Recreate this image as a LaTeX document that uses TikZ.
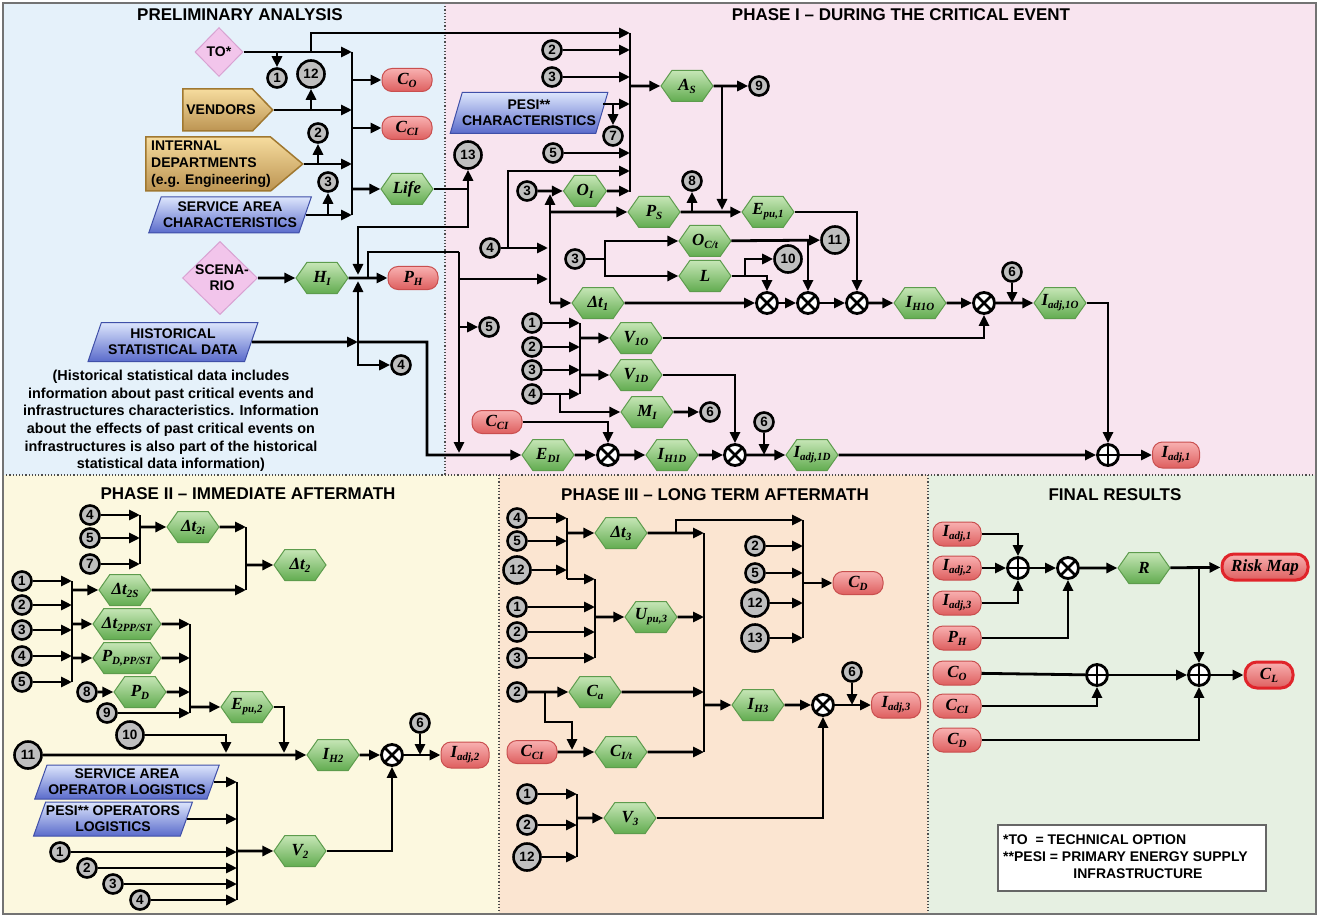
\documentclass[tikz,border=0pt]{standalone}
\usepackage{fontspec}
\setmainfont{Liberation Sans}
\newfontfamily\lf{Liberation Serif}
\usetikzlibrary{arrows.meta,shapes.geometric,shapes.symbols,calc}
\definecolor{bgA}{HTML}{E5F1FA}
\definecolor{bgB}{HTML}{F8E4EF}
\definecolor{bgC}{HTML}{FCF8DF}
\definecolor{bgD}{HTML}{FBE5D1}
\definecolor{bgE}{HTML}{E6F0E2}
\definecolor{hexT}{HTML}{C6E6B6}
\definecolor{hexD}{HTML}{62AC50}
\definecolor{hexB}{HTML}{5D9C4D}
\definecolor{redT}{HTML}{F8B0B0}
\definecolor{redD}{HTML}{DE5F5F}
\definecolor{redB}{HTML}{C94F4F}
\definecolor{riskB}{HTML}{E0242A}
\definecolor{goldT}{HTML}{F6DC9E}
\definecolor{goldD}{HTML}{BC9452}
\definecolor{goldB}{HTML}{A07830}
\definecolor{bluT}{HTML}{DCE5FC}
\definecolor{bluD}{HTML}{5A6BCB}
\definecolor{bluB}{HTML}{3F4FA8}
\definecolor{pinkF}{HTML}{F2C5EB}
\definecolor{pinkB}{HTML}{D8A2D2}
\definecolor{numG}{HTML}{BFBFBF}
\newcommand\vl[2]{#1\raisebox{-3pt}{\fontsize{11}{11}\selectfont #2}}
\newcommand\vfont{\lf\bfseries\itshape\fontsize{17}{17}\selectfont}
\tikzset{
  every node/.style={font=\bfseries\fontsize{14}{16}\selectfont},
  ttl/.style={font=\bfseries\fontsize{17}{18}\selectfont},
  txt/.style={align=center, inner sep=0pt},
  ln/.style={line width=2.8pt},
  arr/.style={line width=2.8pt, -{Triangle[length=11pt,width=10pt]}},
  hex/.style={shape=signal, signal to=east and west, signal pointer angle=110,
    draw=hexB, line width=1pt, top color=hexT, bottom color=hexD,
    minimum width=52pt, minimum height=31pt, inner xsep=-9pt, inner ysep=0pt, font=\vfont},
  redb/.style={rectangle, rounded corners=10pt, draw=redB, line width=1pt,
    top color=redT, bottom color=redD, minimum width=50pt, minimum height=23pt,
    inner sep=0pt, font=\vfont},
  gold/.style={shape=signal, signal to=east, draw=goldB, line width=1.5pt,
    top color=goldT, bottom color=goldD, inner sep=0pt, anchor=west},
  para/.style={trapezium, trapezium left angle=65, trapezium right angle=115,
    trapezium stretches=true, draw=bluB, line width=1pt, top color=bluT,
    bottom color=bluD, inner sep=0pt, align=center},
  pinkd/.style={diamond, draw=pinkB, line width=1pt, fill=pinkF, inner sep=0pt},
  num/.style={circle, draw=black, line width=2.6pt, fill=numG, minimum size=19pt,
    inner sep=0pt, font=\bfseries\fontsize{13.5}{13.5}\selectfont},
  numb/.style={num, minimum size=27pt},
  mul/.style={circle, draw=black, fill=white, line width=2.8pt, minimum size=21pt, inner sep=0pt,
    path picture={\draw[line width=2.8pt] (path picture bounding box.north west)--(path picture bounding box.south east)
      (path picture bounding box.north east)--(path picture bounding box.south west);}},
  add/.style={circle, draw=black, fill=white, line width=2.8pt, minimum size=21pt, inner sep=0pt,
    path picture={\draw[line width=2.8pt] (path picture bounding box.north)--(path picture bounding box.south)
      (path picture bounding box.east)--(path picture bounding box.west);}},
}
\begin{document}
\begin{tikzpicture}[x=1pt,y=-1pt]
\useasboundingbox (0,0) rectangle (1319,917);
\fill[white] (0,0) rectangle (1319,917);
\fill[bgA] (3,3) rectangle (445,475);
\fill[bgB] (445,3) rectangle (1316,475);
\fill[bgC] (3,475) rectangle (499,914);
\fill[bgD] (499,475) rectangle (928,914);
\fill[bgE] (928,475) rectangle (1316,914);
\draw[dotted, line width=1.2pt, black!70] (445,3) -- (445,475) (3,475) -- (1316,475) (499,475) -- (499,914) (928,475) -- (928,914);
\draw[black!55, line width=1.5pt] (3,3) rectangle (1316,914);

\node[ttl] (T0) at (240,15) {PRELIMINARY ANALYSIS};
\node[ttl] (T1) at (901,15) {PHASE I – DURING THE CRITICAL EVENT};
\node[ttl] (T2) at (248,494) {PHASE II – IMMEDIATE AFTERMATH};
\node[ttl] (T3) at (715,495) {PHASE III – LONG TERM AFTERMATH};
\node[ttl] (T4) at (1115,495) {FINAL RESULTS};

% ---------------- PRELIMINARY ----------------
\node[pinkd, minimum width=48pt, minimum height=49pt] (TO) at (219,52) {};
\node[txt] (TOt) at (219,52) {TO*};
\node[num] (n1a) at (277,78) {1};
\node[numb] (n12a) at (311,74) {12};
\node[gold, signal pointer angle=92, minimum width=90pt, minimum height=42pt] (VEN) at (182,110) {};
\node[txt] (VENt) at (221,110) {VENDORS};
\node[gold, signal pointer angle=80, minimum width=157pt, minimum height=54pt] (INT) at (145,164) {};
\node[txt, anchor=west, align=left, font=\bfseries\fontsize{14}{17}\selectfont] (INTt) at (151,164) {INTERNAL\\DEPARTMENTS\\(e.g. Engineering)};
\node[num] (n2a) at (318,133) {2};
\node[num] (n3a) at (328,182) {3};
\node[para, minimum width=163pt, minimum height=36pt] (SAC) at (230,215) {SERVICE AREA\\CHARACTERISTICS};
\coordinate (bA0) at (352,52);
\coordinate (bA1) at (352,215);
\node[redb] (CO1) at (407,80) {\vl{C}{O}};
\node[redb] (CCI1) at (407,128) {\vl{C}{CI}};
\node[hex] (LIFE) at (407,189) {Life};
\node[numb] (n13) at (468,155) {13};
\node[pinkd, minimum width=75pt, minimum height=73pt] (SC) at (220,278) {};
\node[txt] (SCt) at (222,278) {SCENA-\\RIO};
\node[hex] (HI) at (322,278) {\vl{H}{I}};
\node[redb] (PH1) at (413,278) {\vl{P}{H}};
\node[para, minimum width=170pt, minimum height=39pt] (HSD) at (173,342) {HISTORICAL\\STATISTICAL DATA};
\node[num] (n4a) at (401,365) {4};
\node[txt, font=\bfseries\fontsize{14.4}{17.6}\selectfont] (NOTE) at (171,421) {(Historical statistical data includes\\information about past critical events and\\infrastructures characteristics. Information\\about the effects of past critical events on\\infrastructures is also part of the historical\\statistical data information)};

\draw[ln] (bA0) -- (bA1);
\draw[arr] (TO.east) -- (bA0);
\draw[arr] (TO.east -| n1a) -- (n1a);
\coordinate (pB0) at (630,33);
\coordinate (pB1) at (630,192);
\draw[arr] (TO.east -| n12a) |- (pB0);
\draw[arr] (VEN.east) -- (VEN.east -| bA0);
\draw[arr] (VEN.east -| n12a) -- (n12a);
\draw[arr] (INT.east) -- (INT.east -| bA0);
\draw[arr] (INT.east -| n2a) -- (n2a);
\draw[arr] (SAC.east) -- (SAC.east -| bA0);
\draw[arr] (SAC.east -| n3a) -- (n3a);
\draw[arr] (CO1 -| bA0) -- (CO1);
\draw[arr] (CCI1 -| bA0) -- (CCI1);
\draw[arr] (LIFE -| bA0) -- (LIFE);
\draw[arr] (LIFE) -| (n13);
\coordinate (jL) at (468,189);
\draw[arr] (jL) -- (468,227) -- (358,227) -- (358,275);
\draw[arr] (SC) -- (HI);
\draw[arr] (HI) -- (PH1);
\coordinate (jP) at (459,252);
\draw[ln] (368,278) |- (jP);
\draw[arr] (jP) -- (459,453);
\node[num] (n5a) at (489,327) {5};
\draw[arr] (459,327) -- (n5a);
\draw[arr] (459,279) -- (548,279);
\coordinate (jS) at (358,342);
\draw[arr] (HSD.east) -- (jS);
\draw[arr] (jS) -- (358,281);
\draw[arr] (jS) |- (n4a);

% ---------------- PHASE I ----------------
\draw[ln] (pB0) -- (pB1);
\node[num] (n2b) at (552,50) {2};
\draw[arr] (n2b) -- (n2b -| pB0);
\node[num] (n3b) at (552,77) {3};
\draw[arr] (n3b) -- (n3b -| pB0);
\node[para, minimum width=158pt, minimum height=41pt] (PESI) at (529,113) {PESI**\\CHARACTERISTICS};
\node[num] (n7) at (613,136) {7};
\draw[arr] (603,104) -- (630,104);
\draw[arr] (n7 |- 0,104) -- (n7);
\node[num] (n5b) at (553,153) {5};
\draw[arr] (n5b) -- (n5b -| pB0);
\node[num] (n4b) at (490,248) {4};
\draw[arr] (n4b) -- (548,248);
\draw[arr] (508,248) |- (630,171);
\node[num] (n3c) at (527,191) {3};
\node[hex, minimum width=43pt] (OI) at (585,191) {\vl{O}{I}};
\draw[arr] (n3c) -- (OI);
\draw[arr] (OI) -- (OI -| pB0);
\node[hex] (AS) at (687,86) {\vl{A}{S}};
\draw[arr] (630,86) -- (AS);
\node[num] (n9) at (759,86) {9};
\draw[arr] (AS) -- (n9);
\draw[arr] (722,86) -- (722,210);
\coordinate (sB1) at (550,303);
\draw[arr] (sB1) -- (550,194);
\node[hex] (PS) at (654,212) {\vl{P}{S}};
\draw[arr] (550,212) -- (PS);
\node[hex] (EPU1) at (768,212) {\vl{E}{pu,1}};
\draw[arr] (PS) -- (EPU1);
\node[num] (n8) at (692,181) {8};
\draw[arr] (692,212) -- (n8);
\node[mul] (M1) at (767,303) {};
\node[mul] (M2) at (808,303) {};
\node[mul] (M3) at (857,303) {};
\draw[arr] (EPU1) -| (M3);
\node[num] (n3d) at (575,259) {3};
\node[hex] (OCT) at (705,241) {\vl{O}{C/t}};
\node[hex] (L) at (705,276) {L};
\coordinate (j3) at (605,259);
\draw[ln] (n3d) -- (j3);
\draw[arr] (j3) |- (OCT);
\draw[arr] (j3) |- (L);
\node[numb] (n11) at (835,240) {11};
\draw[arr] (OCT) -- (n11);
\draw[arr] (808,241) -- (M2);
\node[numb] (n10) at (788,259) {10};
\draw[arr] (L) -| (M1);
\draw[arr] (745,276) |- (n10);
\node[hex] (DT1) at (598,303) {\vl{Δt}{1}};
\draw[arr] (sB1) -- (DT1);
\draw[arr] (DT1) -- (M1);
\draw[arr] (M1) -- (M2);
\draw[arr] (M2) -- (M3);
\node[hex] (IH1O) at (920,303) {\vl{I}{H1O}};
\draw[arr] (M3) -- (IH1O);
\node[mul] (M4) at (984,303) {};
\draw[arr] (IH1O) -- (M4);
\node[hex] (IA1O) at (1060,303) {\vl{I}{adj,1O}};
\draw[arr] (M4) -- (IA1O);
\node[num] (n6a) at (1012,272) {6};
\draw[arr] (n6a) -- (1012,303);
\node[add] (P1) at (1108,455) {};
\draw[arr] (IA1O) -| (P1);
\node[redb, minimum width=47pt, minimum height=26pt] (IA1) at (1176,455) {\vl{I}{adj,1}};
\draw[arr] (P1) -- (IA1);
\node[num] (m1) at (532,323) {1};
\node[num] (m2) at (532,347) {2};
\node[num] (m3) at (532,370) {3};
\node[num] (m4) at (532,394) {4};
\draw[ln] (580,323) -- (580,394);
\draw[arr] (m1) -- (580,323);
\draw[arr] (m2) -- (580,347);
\draw[arr] (m3) -- (580,370);
\draw[arr] (m4) -- (580,394);
\node[hex] (V1O) at (636,338) {\vl{V}{1O}};
\draw[arr] (580,338) -- (V1O);
\node[hex] (V1D) at (636,375) {\vl{V}{1D}};
\draw[arr] (580,375) -- (V1D);
\node[hex] (MI) at (647,412) {\vl{M}{I}};
\draw[arr] (560,394) |- (MI);
\node[num] (n6b) at (710,412) {6};
\draw[arr] (MI) -- (n6b);
\draw[arr] (V1O) -| (M4);
\node[mul] (M5) at (608,455) {};
\node[mul] (M6) at (735,455) {};
\draw[arr] (V1D) -| (M6);
\node[redb] (CCI2) at (497,422) {\vl{C}{CI}};
\draw[arr] (CCI2) -| (M5);
\node[hex] (EDI) at (548,455) {\vl{E}{DI}};
\draw[arr] (jS) -| (427,455) -- (EDI);
\draw[arr] (EDI) -- (M5);
\node[hex] (IH1D) at (672,455) {\vl{I}{H1D}};
\draw[arr] (M5) -- (IH1D);
\draw[arr] (IH1D) -- (M6);
\node[hex] (IA1D) at (812,455) {\vl{I}{adj,1D}};
\draw[arr] (M6) -- (IA1D);
\node[num] (n6c) at (764,422) {6};
\draw[arr] (n6c) -- (764,455);
\draw[arr] (IA1D) -- (P1);

% ---------------- PHASE II ----------------
\node[num] (q4a) at (90,515) {4};
\node[num] (q5a) at (90,538) {5};
\node[num] (q7a) at (90,564) {7};
\draw[ln] (140,515) -- (140,564);
\draw[arr] (q4a) -- (140,515);
\draw[arr] (q5a) -- (140,538);
\draw[arr] (q7a) -- (140,564);
\node[hex] (DT2I) at (193,527) {\vl{Δt}{2i}};
\draw[arr] (140,527) -- (DT2I);
\draw[ln] (246,527) -- (246,590);
\draw[arr] (DT2I) -- (246,527);
\node[hex] (DT2) at (300,565) {\vl{Δt}{2}};
\draw[arr] (246,565) -- (DT2);
\node[num] (q1) at (22,581) {1};
\node[num] (q2) at (22,605) {2};
\node[num] (q3) at (22,630) {3};
\node[num] (q4) at (22,656) {4};
\node[num] (q5) at (22,682) {5};
\draw[ln] (72,581) -- (72,682);
\draw[arr] (q1) -- (72,581);
\draw[arr] (q2) -- (72,605);
\draw[arr] (q3) -- (72,630);
\draw[arr] (q4) -- (72,656);
\draw[arr] (q5) -- (72,682);
\node[hex] (DT2S) at (125,590) {\vl{Δt}{2S}};
\draw[arr] (72,590) -- (DT2S);
\draw[arr] (DT2S) -- (246,590);
\node[hex, minimum width=68pt] (DT2P) at (127,624) {\vl{Δt}{2PP/ST}};
\draw[arr] (72,624) -- (DT2P);
\node[hex, minimum width=68pt] (PDPP) at (127,658) {\vl{P}{D,PP/ST}};
\draw[arr] (72,658) -- (PDPP);
\draw[ln] (190,624) -- (190,713);
\draw[arr] (DT2P) -- (190,624);
\draw[arr] (PDPP) -- (190,658);
\node[num] (q8) at (87,692) {8};
\node[hex] (PD) at (140,692) {\vl{P}{D}};
\draw[arr] (q8) -- (PD);
\draw[arr] (PD) -- (190,692);
\node[num] (q9) at (107,713) {9};
\draw[arr] (q9) -- (190,713);
\node[hex] (EPU2) at (247,707) {\vl{E}{pu,2}};
\draw[arr] (190,707) -- (EPU2);
\node[numb] (q11) at (28,755) {11};
\node[hex] (IH2) at (333,755) {\vl{I}{H2}};
\draw[arr] (q11) -- (IH2);
\draw[arr] (EPU2) -| (284,753);
\node[numb] (q10) at (130,735) {10};
\draw[arr] (q10) -| (226,753);
\node[mul] (M7) at (392,755) {};
\draw[arr] (IH2) -- (M7);
\node[redb, minimum width=48pt, minimum height=26pt] (IA2) at (465,755) {\vl{I}{adj,2}};
\draw[arr] (M7) -- (IA2);
\node[num] (q6) at (420,723) {6};
\draw[arr] (q6) -- (420,755);
\node[para, minimum width=185pt, minimum height=34pt] (SAOL) at (127,782) {SERVICE AREA\\OPERATOR LOGISTICS};
\node[para, minimum width=159pt, minimum height=34pt] (PEOL) at (113,819) {PESI** OPERATORS\\LOGISTICS};
\draw[ln] (237,782) -- (237,900);
\draw[arr] (SAOL.east) -- (SAOL.east -| 237,0);
\draw[arr] (PEOL.east) -- (PEOL.east -| 237,0);
\node[num] (r1) at (60,852) {1};
\node[num] (r2) at (87,868) {2};
\node[num] (r3) at (113,884) {3};
\node[num] (r4) at (140,900) {4};
\draw[arr] (r1) -- (237,852);
\draw[arr] (r2) -- (237,868);
\draw[arr] (r3) -- (237,884);
\draw[arr] (r4) -- (237,900);
\node[hex] (V2) at (300,851) {\vl{V}{2}};
\draw[arr] (237,851) -- (V2);
\draw[arr] (V2) -| (M7);

% ---------------- PHASE III ----------------
\node[num] (s4) at (517,518) {4};
\node[num] (s5) at (517,541) {5};
\node[numb] (s12) at (517,570) {12};
\draw[ln] (567,518) -- (567,579);
\draw[arr] (s4) -- (567,518);
\draw[arr] (s5) -- (567,541);
\draw[arr] (s12) -- (567,570);
\node[hex] (DT3) at (621,533) {\vl{Δt}{3}};
\draw[arr] (567,533) -- (DT3);
\draw[arr] (567,579) -- (595,579);
\draw[ln] (595,579) -- (595,658);
\node[num] (s1) at (517,607) {1};
\node[num] (s2) at (517,632) {2};
\node[num] (s3) at (517,658) {3};
\draw[arr] (s1) -- (595,607);
\draw[arr] (s2) -- (595,632);
\draw[arr] (s3) -- (595,658);
\node[hex] (UPU3) at (651,617) {\vl{U}{pu,3}};
\draw[arr] (595,617) -- (UPU3);
\draw[ln] (704,533) -- (704,752);
\draw[arr] (UPU3) -- (704,617);
\draw[arr] (DT3) -- (704,533);
\draw[arr] (676,533) |- (803,520);
\node[hex] (IH3) at (758,705) {\vl{I}{H3}};
\draw[arr] (704,705) -- (IH3);
\node[num] (s2b) at (517,692) {2};
\node[hex] (CA) at (595,692) {\vl{C}{a}};
\draw[arr] (s2b) -- (CA);
\draw[arr] (CA) -- (704,692);
\draw[arr] (545,692) |- (572,722) -- (572,750);
\node[redb] (CCI3) at (532,752) {\vl{C}{CI}};
\node[hex] (CIT) at (621,752) {\vl{C}{I/t}};
\draw[arr] (CCI3) -- (CIT);
\draw[arr] (CIT) -- (704,752);
\node[mul] (M8) at (823,705) {};
\draw[arr] (IH3) -- (M8);
\node[redb, minimum width=49pt, minimum height=26pt] (IA3) at (896,705) {\vl{I}{adj,3}};
\draw[arr] (M8) -- (IA3);
\node[num] (s6) at (852,672) {6};
\draw[arr] (s6) -- (852,705);
\node[num] (t1) at (527,794) {1};
\node[num] (t2) at (527,825) {2};
\node[numb] (t12) at (527,857) {12};
\draw[ln] (577,794) -- (577,857);
\draw[arr] (t1) -- (577,794);
\draw[arr] (t2) -- (577,825);
\draw[arr] (t12) -- (577,857);
\node[hex] (V3) at (630,818) {\vl{V}{3}};
\draw[arr] (577,818) -- (V3);
\draw[arr] (V3) -| (M8);
\node[num] (u2) at (755,546) {2};
\node[num] (u5) at (755,573) {5};
\node[numb] (u12) at (755,603) {12};
\node[numb] (u13) at (755,638) {13};
\draw[ln] (803,520) -- (803,638);
\draw[arr] (u2) -- (803,546);
\draw[arr] (u5) -- (803,573);
\draw[arr] (u12) -- (803,603);
\draw[arr] (u13) -- (803,638);
\node[redb] (CD) at (858,583) {\vl{C}{D}};
\draw[arr] (803,583) -- (CD);

% ---------------- FINAL ----------------
\node[redb, minimum width=48pt, minimum height=24pt] (F1) at (957,534) {\vl{I}{adj,1}};
\node[redb, minimum width=48pt, minimum height=24pt] (F2) at (957,568) {\vl{I}{adj,2}};
\node[redb, minimum width=48pt, minimum height=24pt] (F3) at (957,603) {\vl{I}{adj,3}};
\node[redb, minimum width=48pt, minimum height=24pt] (FPH) at (957,638) {\vl{P}{H}};
\node[redb, minimum width=48pt, minimum height=24pt] (FCO) at (957,673) {\vl{C}{O}};
\node[redb, minimum width=48pt, minimum height=24pt] (FCCI) at (957,706) {\vl{C}{CI}};
\node[redb, minimum width=48pt, minimum height=24pt] (FCD) at (957,740) {\vl{C}{D}};
\node[add] (P2) at (1018,568) {};
\node[mul] (M9) at (1068,568) {};
\node[hex] (R) at (1144,568) {R};
\node[redb, draw=riskB, line width=3pt, minimum width=86pt, minimum height=26pt, rounded corners=12pt, font=\lf\bfseries\itshape\fontsize{17}{17}\selectfont] (RISK) at (1265,567) {Risk Map};
\node[add] (P3) at (1199,675) {};
\node[add] (P4) at (1097,675) {};
\node[redb, draw=riskB, line width=3pt, minimum width=48pt, minimum height=26pt, rounded corners=12pt] (CL) at (1269,675) {\vl{C}{L}};
\draw[arr] (F1) -| (P2);
\draw[arr] (F2) -- (P2);
\draw[arr] (F3) -| (P2);
\draw[arr] (P2) -- (M9);
\draw[arr] (FPH) -| (M9);
\draw[arr] (M9) -- (R);
\draw[arr] (R) -- (RISK);
\draw[arr] (1199,568) -- (P3);
\draw[ln] (FCO) -- (P4);
\draw[arr] (P4) -- (P3);
\draw[arr] (FCCI) -| (P4);
\draw[arr] (FCD) -| (P3);
\draw[arr] (P3) -- (CL);
\node[draw=black!60, fill=white, line width=1.2pt, minimum width=268pt, minimum height=66pt, inner sep=0pt] (LEG) at (1132,858) {};
\node[txt, anchor=west] (L1) at (1003,840) {*TO\ \ = TECHNICAL OPTION};
\node[txt, anchor=west] (L2) at (1003,857) {**PESI = PRIMARY ENERGY SUPPLY};
\node[txt] (L3) at (1138,874) {INFRASTRUCTURE};
\end{tikzpicture}
\end{document}
